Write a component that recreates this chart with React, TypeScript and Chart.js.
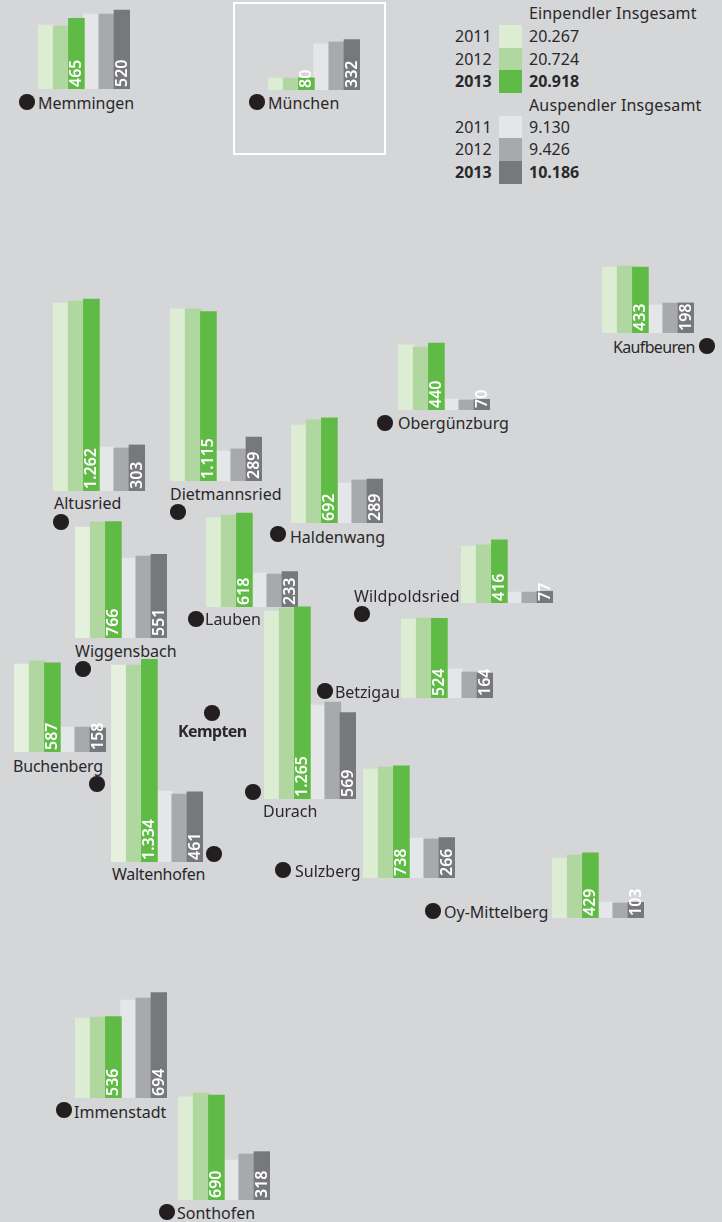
import React, { useEffect, useRef } from "react";
import { Chart, registerables } from "chart.js";

Chart.register(...registerables);

// ---- data ----
const towns = ["Memmingen", "München", "Altusried", "Dietmannsried", "Kaufbeuren", "Obergünzburg", "Haldenwang", "Wiggensbach", "Buchenberg", "Waltenhofen", "Lauben", "Durach", "Betzigau", "Wildpoldsried", "Sulzberg", "Oy-Mittelberg", "Immenstadt", "Sonthofen"];
const in2011 = [421, 79, 1237, 1132, 434, 428, 645, 730, 579, 1296, 586, 1237, 520, 375, 717, 395, 526, 678];
const in2012 = [414, 79, 1250, 1132, 441, 414, 678, 763, 599, 1296, 605, 1257, 526, 382, 730, 414, 533, 704];
const in2013 = [465, 80, 1262, 1115, 433, 440, 692, 766, 587, 1334, 618, 1265, 524, 416, 738, 429, 536, 690];
const out2011 = [493, 303, 289, 197, 184, 72, 263, 526, 164, 467, 224, 618, 191, 72, 263, 105, 645, 263];
const out2012 = [493, 316, 283, 211, 197, 66, 283, 539, 164, 447, 217, 638, 171, 72, 257, 99, 658, 303];
const out2013 = [520, 332, 303, 289, 198, 70, 289, 551, 158, 461, 233, 569, 164, 77, 266, 103, 694, 318];
const seriesNames = ["Ein 2011", "Ein 2012", "Ein 2013", "Aus 2011", "Aus 2012", "Aus 2013"];
const legendYears = ["2011", "2012", "2013"];
const inTotals = ["20.267", "20.724", "20.918"];
const outTotals = ["9.130", "9.426", "10.186"];
const centralTown = "Kempten";

// ---- styles & layout ----
const BG = "#D5D6D8";
const INK = "#2A282A";
const COLORS = ["#DDEDD4", "#B0D79F", "#5FBB46", "#E5E6E8", "#A7A9AC", "#77787B"];
const PALE = "#E6F0DF";
const PALE_TOWNS = ["Wiggensbach", "Buchenberg", "Waltenhofen"];
const PX_PER_UNIT = 0.152;
const FONT = '"Noto Sans", sans-serif';
// left edge + baseline of the bars, label left + centre, dot centre, label letter-spacing
const layout: number[][] = [
  [38, 89, 38, 103, 27, 102, 0],
  [268, 90, 268, 103, 257, 102, 0.1],
  [53, 491, 54, 503, 61, 522, 0],
  [170, 481, 170, 494, 178, 512, 0],
  [602, 333, 613, 347, 707, 346, -0.65],
  [398, 410, 398, 423, 385, 423, 0],
  [291, 523, 290, 537, 278, 534, 0],
  [75, 638, 75, 651, 83, 669, 0],
  [14, 752, 13, 766, 97, 784, -0.2],
  [111, 862, 112, 874, 214, 854, -0.3],
  [206, 607, 205, 619, 196, 619, 0],
  [264, 799, 263, 811, 253, 792, 0],
  [401, 698, 335, 692, 325, 691, -0.1],
  [461, 603, 354, 596, 362, 614, 0.15],
  [363, 878, 295, 871, 283, 870, 0],
  [552, 918, 444, 912, 433, 911, 0],
  [75, 1098, 74, 1112, 64, 1110, 0],
  [178, 1200, 177, 1213, 167, 1212, 0],
];

const valueLabels = {
  id: "valueLabels",
  afterDatasetsDraw(chart: any) {
    const { ctx } = chart;
    [0, 1].forEach((d) => {
      const i = d === 0 ? 2 : 5;
      const bar = chart.getDatasetMeta(d).data[i];
      const value = chart.data.datasets[d].data[i] as number;
      ctx.save();
      ctx.translate(bar.x, bar.base - 2);
      ctx.rotate(-Math.PI / 2);
      ctx.fillStyle = "#FFFFFF";
      ctx.font = `600 16px ${FONT}`;
      ctx.textAlign = "left";
      ctx.textBaseline = "middle";
      ctx.fillText(value.toLocaleString("de-DE"), 0, 0.5);
      ctx.restore();
    });
  },
};

function TownBars({ index }: { index: number }) {
  const ref = useRef<HTMLCanvasElement>(null);
  const ein = [in2011[index], in2012[index], in2013[index]];
  const aus = [out2011[index], out2012[index], out2013[index]];
  const height = Math.ceil(Math.max(...ein, ...aus) * PX_PER_UNIT) + 6;
  useEffect(() => {
    const colors = [...COLORS];
    if (PALE_TOWNS.includes(towns[index])) colors[0] = PALE;
    const common = { borderWidth: 0, barThickness: 16, clip: false, grouped: false };
    const chart = new Chart(ref.current!, {
      type: "bar",
      data: {
        labels: seriesNames,
        datasets: [
          { ...common, label: "Einpendler", data: [...ein, null, null, null], backgroundColor: colors, order: 1 },
          { ...common, label: "Auspendler", data: [null, null, null, ...aus], backgroundColor: colors, order: 2 },
        ],
      },
      options: {
        animation: false,
        responsive: false,
        layout: { padding: { left: 0.4, right: 0.4, top: 0, bottom: 0 } },
        plugins: { legend: { display: false }, tooltip: { enabled: false }, title: { display: false } },
        scales: {
          x: { display: false },
          y: { display: false, min: 0, max: height / PX_PER_UNIT },
        },
      },
      plugins: [valueLabels],
    } as any);
    return () => chart.destroy();
  }, []);
  const [left, base] = layout[index];
  return (
    <canvas
      ref={ref}
      width={92}
      height={height}
      style={{ position: "absolute", left, top: base - height, width: 92, height }}
    />
  );
}

const textStyle = (left: number, cy: number, bold = false): React.CSSProperties => ({
  position: "absolute",
  left,
  top: cy,
  transform: "translateY(-50%)",
  fontFamily: FONT,
  fontSize: 16,
  lineHeight: 1,
  color: INK,
  fontWeight: bold ? 700 : 400,
  whiteSpace: "nowrap",
});

function Dot({ x, y }: { x: number; y: number }) {
  return (
    <div style={{ position: "absolute", left: x - 7.75, top: y - 7.75, width: 15.5, height: 15.5, borderRadius: "50%", background: "#231F20" }} />
  );
}

function LegendBlock({ title, totals, colors, titleY, rowYs, swatchYs }: { title: string; totals: string[]; colors: string[]; titleY: number; rowYs: number[]; swatchYs: number[] }) {
  return (
    <>
      <div style={{ ...textStyle(529, titleY), letterSpacing: 0.15 }}>{title}</div>
      {legendYears.map((year, i) => (
        <React.Fragment key={year}>
          <div style={textStyle(455, rowYs[i], i === 2)}>{year}</div>
          <div style={{ position: "absolute", left: 499, top: swatchYs[i], width: 23, height: swatchYs[i + 1] - swatchYs[i], background: colors[i] }} />
          <div style={textStyle(529, rowYs[i], i === 2)}>{totals[i]}</div>
        </React.Fragment>
      ))}
    </>
  );
}

export default function App() {
  useEffect(() => {
    document.body.style.margin = "0";
    document.body.style.background = BG;
  }, []);
  return (
    <div style={{ position: "absolute", left: 0, top: 0, width: 722, height: 1222, overflow: "hidden", background: BG }}>
      <div style={{ position: "absolute", left: 233, top: 2, width: 153, height: 153, boxSizing: "border-box", border: "2px solid #FFFFFF" }} />
      {towns.map((name, i) => (
        <React.Fragment key={name}>
          <TownBars index={i} />
          <Dot x={layout[i][4]} y={layout[i][5]} />
          <div style={{ ...textStyle(layout[i][2], layout[i][3]), letterSpacing: layout[i][6] }}>{name}</div>
        </React.Fragment>
      ))}
      <Dot x={212} y={713} />
      <div style={{ ...textStyle(178, 731, true), letterSpacing: -0.6 }}>{centralTown}</div>
      <LegendBlock title="Einpendler Insgesamt" totals={inTotals} colors={COLORS.slice(0, 3)} titleY={13} rowYs={[36, 59, 81]} swatchYs={[25, 48, 70, 93]} />
      <LegendBlock title="Auspendler Insgesamt" totals={outTotals} colors={COLORS.slice(3)} titleY={105} rowYs={[127, 149, 172]} swatchYs={[116, 138, 161, 184]} />
    </div>
  );
}
